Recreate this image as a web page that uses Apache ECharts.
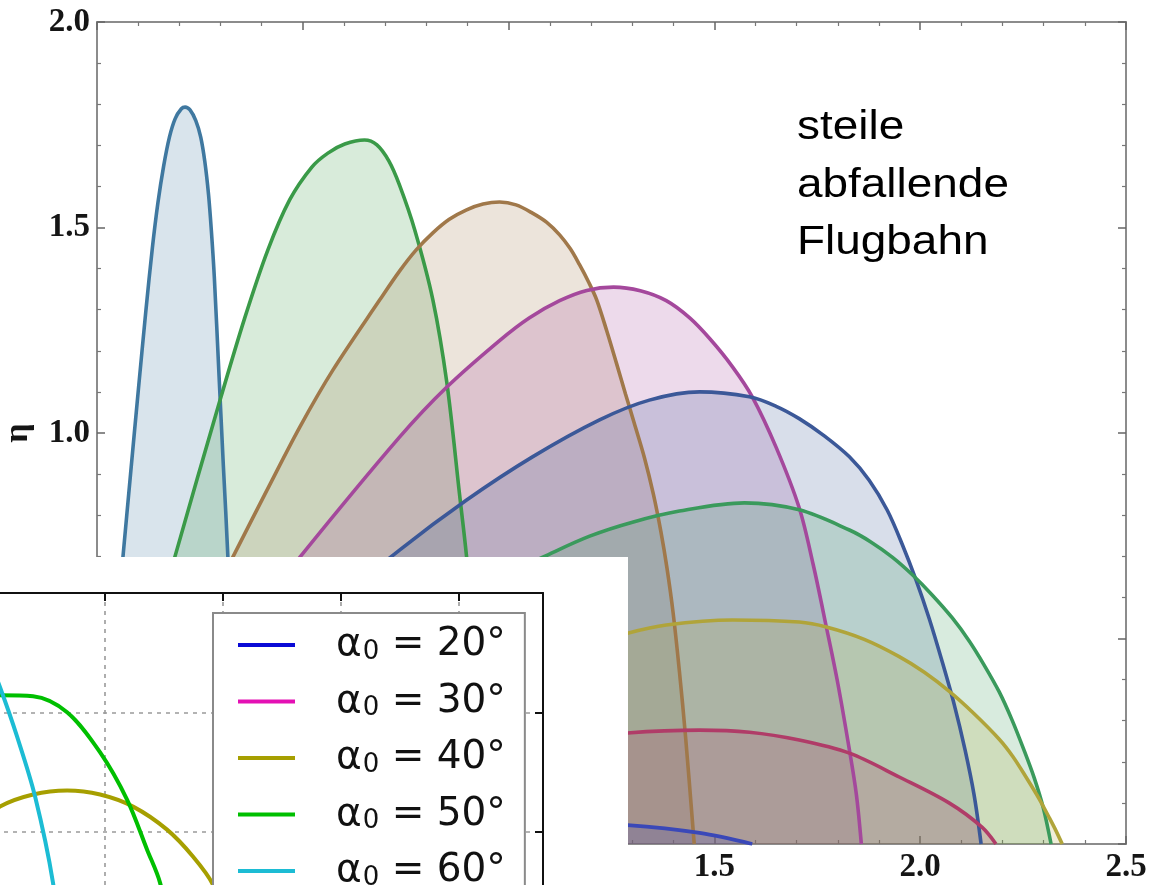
<!DOCTYPE html>
<html><head><meta charset="utf-8">
<script src="https://cdn.jsdelivr.net/npm/echarts@6/dist/echarts.min.js"></script>
<style>html,body{margin:0;padding:0;background:#fff;overflow:hidden;width:1159px;height:885px;position:relative}
#c{position:absolute;left:-131px;top:0;width:1290px;height:951px}</style>
</head><body><div id="c"></div><script>
// ---- main plot (Mathematica style), x = ξ, y = η ----
const xTicks = [0, 0.5, 1.0, 1.5, 2.0, 2.5];
const yTicks = [0, 0.5, 1.0, 1.5, 2.0];
const mainNames = ['c1','c2','c3','c4','c5','c6','c7','c8','c9'];
const mainColors = ['#3f78a0','#3a9a48','#a0784a','#a4489c','#3b5898','#3a9a5c','#b0a43a','#b03c68','#3a48b8'];
const curveSteelBlue = [[0,0],[0.032,0.355],[0.063,0.698],[0.0815,0.9],[0.1,1.1],[0.119,1.3],[0.1345,1.45],[0.148,1.56],[0.162,1.65],[0.176,1.72],[0.19,1.765],[0.205,1.789],[0.214,1.793],[0.226,1.786],[0.24,1.76],[0.252,1.72],[0.262,1.66],[0.271,1.58],[0.278,1.49],[0.285,1.38],[0.296,1.15],[0.307,0.92],[0.318,0.698],[0.33,0.35],[0.342,0]];
const curveGreenHigh = [[0,0],[0.095,0.36],[0.189,0.698],[0.299,1.080],[0.359,1.280],[0.415,1.445],[0.468,1.567],[0.522,1.647],[0.561,1.681],[0.602,1.703],[0.650,1.713],[0.680,1.701],[0.709,1.662],[0.735,1.603],[0.772,1.494],[0.816,1.324],[0.850,1.122],[0.881,0.849],[0.898,0.698],[0.930,0.350],[0.959,0]];
const curveBrown = [[0,0],[0.16,0.36],[0.330,0.698],[0.413,0.861],[0.493,1.015],[0.573,1.153],[0.687,1.324],[0.735,1.394],[0.775,1.445],[0.816,1.487],[0.856,1.52],[0.898,1.543],[0.938,1.557],[0.978,1.562],[1.018,1.555],[1.058,1.535],[1.092,1.513],[1.124,1.482],[1.150,1.448],[1.172,1.410],[1.194,1.368],[1.214,1.324],[1.238,1.25],[1.262,1.17],[1.284,1.095],[1.305,1.025],[1.330,0.94],[1.352,0.85],[1.370,0.76],[1.385,0.67],[1.400,0.56],[1.415,0.42],[1.430,0.26],[1.451,0]];
const curveMagenta = [[0,0],[0.25,0.39],[0.493,0.698],[0.735,0.990],[0.850,1.112],[0.978,1.225],[1.05,1.28],[1.124,1.322],[1.19,1.347],[1.255,1.355],[1.32,1.346],[1.383,1.322],[1.44,1.28],[1.49,1.228],[1.544,1.161],[1.592,1.088],[1.650,0.965],[1.706,0.818],[1.74,0.68],[1.772,0.528],[1.80,0.39],[1.828,0.229],[1.845,0.12],[1.857,0]];
const curveBlueDark = [[0,0],[0.35,0.40],[0.735,0.715],[0.898,0.837],[1.058,0.942],[1.221,1.032],[1.342,1.080],[1.464,1.100],[1.585,1.088],[1.65,1.065],[1.706,1.035],[1.767,0.993],[1.828,0.942],[1.876,0.885],[1.920,0.812],[1.956,0.73],[1.990,0.642],[2.022,0.548],[2.053,0.445],[2.083,0.338],[2.109,0.229],[2.131,0.119],[2.148,0]];
const curveGreenLow = [[0,0],[0.4,0.36],[0.75,0.545],[1.083,0.698],[1.197,0.749],[1.301,0.783],[1.415,0.810],[1.573,0.830],[1.706,0.813],[1.828,0.764],[1.88,0.735],[1.932,0.698],[1.981,0.655],[2.029,0.606],[2.078,0.550],[2.119,0.494],[2.155,0.436],[2.192,0.370],[2.223,0.302],[2.252,0.229],[2.277,0.161],[2.299,0.088],[2.318,0]];
const curveOlive = [[0,0],[0.4,0.23],[0.8,0.38],[1.289,0.513],[1.383,0.533],[1.544,0.545],[1.706,0.540],[1.772,0.528],[1.864,0.498],[1.949,0.456],[2.010,0.418],[2.070,0.372],[2.131,0.317],[2.192,0.255],[2.225,0.213],[2.257,0.163],[2.289,0.110],[2.313,0.065],[2.33,0.032],[2.345,0]];
const curveCrimson = [[0,0],[0.4,0.13],[0.85,0.23],[1.289,0.270],[1.464,0.277],[1.585,0.272],[1.706,0.253],[1.828,0.221],[1.949,0.163],[2.070,0.100],[2.150,0.041],[2.184,0]];
const curveBlueLow = [[0,0],[0.5,0.05],[1.0,0.06],[1.289,0.046],[1.464,0.027],[1.592,0]];
const mainCurves = [curveSteelBlue, curveGreenHigh, curveBrown, curveMagenta, curveBlueDark, curveGreenLow, curveOlive, curveCrimson, curveBlueLow];

// ---- inset plot (matplotlib style) ----
const insetNames = ['α₀ = 20°','α₀ = 30°','α₀ = 40°','α₀ = 50°','α₀ = 60°'];
const insetColors = ['#0a0ad6','#e410b4','#a69f00','#00bf00','#1cbcd4'];
const inset20 = [];
const inset30 = [];
const inset40 = [[9.83,10.84],[11.10,12.10],[13.90,13.11],[16.78,13.45],[19.58,13.11],[22.37,12.10],[25.25,10.17],[27.46,7.90],[29.15,5.55],[31.44,0]];
const inset50 = [[9.83,21.1],[11.10,21.43],[13.90,21.34],[16.78,20.0],[19.58,16.64],[21.86,12.69],[23.56,8.49],[24.66,5.71],[25.93,0]];
const inset60 = [[9.83,25.3],[11.10,22.1],[12.54,17.98],[14.07,12.94],[15.59,5.71],[16.19,0]];
const insetCurves = [inset20, inset30, inset40, inset50, inset60];
const insetXTicks = [0,10,20,30,40,50];
const insetYTicks = [0,10,20,30];

const serif = 'Liberation Serif';
const frameGray = '#8c8c8c';

const series = [];
mainCurves.forEach((d, i) => {
  series.push({
    name: mainNames[i], type: 'line', xAxisIndex: 0, yAxisIndex: 0,
    data: d, smooth: 0.33, showSymbol: false, symbol: 'none', z: 2,
    lineStyle: { color: mainColors[i], width: 3.6 },
    itemStyle: { color: mainColors[i] },
    areaStyle: { color: mainColors[i], opacity: 0.2 },
    silent: true
  });
});
insetCurves.forEach((d, i) => {
  series.push({
    name: insetNames[i], type: 'line', xAxisIndex: 2, yAxisIndex: 2,
    data: d, smooth: 0.33, showSymbol: false, symbol: 'none', z: 12,
    lineStyle: { color: insetColors[i], width: 4 },
    itemStyle: { color: insetColors[i] },
    silent: true
  });
});

function mainAxis(pos, show, ticks) {
  return {
    type: 'value', min: ticks[0], max: ticks[ticks.length-1], interval: 0.5,
    position: pos, gridIndex: 0, z: 0,
    axisLine: { show: true, onZero: false, lineStyle: { color: frameGray, width: 2 } },
    axisTick: { show: true, inside: true, length: 8, lineStyle: { color: '#666', width: 1.5 } },
    minorTick: { show: true, splitNumber: 5, length: 4, lineStyle: { color: '#777', width: 1.2 } },
    splitLine: { show: false },
    axisLabel: { show: show, margin: 7, color: '#151515', fontFamily: serif, fontWeight: 'bold', fontSize: 33,
      formatter: v => v.toFixed(1) }
  };
}
function insetAxis(pos, ticks, isX, frame) {
  return {
    type: 'value', min: ticks[0], max: isX ? 57.1 : ticks[ticks.length-1], interval: 10,
    position: pos, gridIndex: 1, z: 11,
    axisLine: { show: true, onZero: false, lineStyle: { color: '#111', width: 2 } },
    axisTick: { show: frame, inside: true, length: 8, lineStyle: { color: '#111', width: 2 } },
    splitLine: { show: !frame, lineStyle: { color: '#9a9a9a', width: 1.6, type: [4, 5] } },
    axisLabel: { show: false }
  };
}

const yl = mainAxis('left', true, yTicks);
yl.name = 'η'; yl.nameLocation = 'middle'; yl.nameRotate = 90; yl.nameGap = 62;
yl.nameTextStyle = { fontFamily: serif, fontWeight: 'bold', fontSize: 34, color: '#151515' };

const OX = 131; // container offset to the left of the window
const option = {
  backgroundColor: '#ffffff',
  animation: false,
  grid: [
    { left: 97 + OX, right: 33, top: 22, bottom: 107, containLabel: false },
    { left: 0, right: 616, top: 593, bottom: 0, containLabel: false }
  ],
  xAxis: [
    mainAxis('bottom', true, xTicks),
    mainAxis('top', false, xTicks),
    insetAxis('bottom', insetXTicks, true, false),
    insetAxis('top', insetXTicks, true, true)
  ],
  yAxis: [
    yl,
    mainAxis('right', false, yTicks),
    insetAxis('left', insetYTicks, false, false),
    insetAxis('right', insetYTicks, false, true)
  ],
  legend: {
    data: insetNames, orient: 'vertical', left: 213 + OX, top: 613,
    padding: [7, 19, 7, 25], itemGap: 6.5, itemWidth: 57, itemHeight: 4,
    icon: 'rect', selectedMode: false, z: 20,
    backgroundColor: '#ffffff', borderColor: '#8a8a8a', borderWidth: 2, borderRadius: 0,
    formatter: n => '{a|α}{s|0}{b|' + n.slice(2) + '}',
    textStyle: {
      color: '#111', fontFamily: 'DejaVu Sans', fontSize: 39, lineHeight: 50,
      rich: {
        a: { fontFamily: 'DejaVu Sans', fontSize: 39, color: '#111', padding: [0, 0, 0, 36] },
        s: { fontFamily: 'DejaVu Sans', fontSize: 26, color: '#111', padding: [14, 0, 0, 1] },
        b: { fontFamily: 'DejaVu Sans', fontSize: 39, color: '#111' }
      }
    }
  },
  graphic: [
    { type: 'rect', z: 10, silent: true, shape: { x: OX, y: 557, width: 628, height: 400 }, style: { fill: '#ffffff' } },
    { type: 'text', z: 5, x: 797 + OX, y: 99, scaleX: 1.12, silent: true,
      style: { text: 'steile\nabfallende\nFlugbahn', font: '41px "Liberation Sans"', lineHeight: 57.5, fill: '#000', align: 'left', verticalAlign: 'top' } }
  ],
  series: series
};
const chart = echarts.init(document.getElementById('c'), null, { renderer: 'canvas' });
chart.setOption(option);
</script></body></html>
